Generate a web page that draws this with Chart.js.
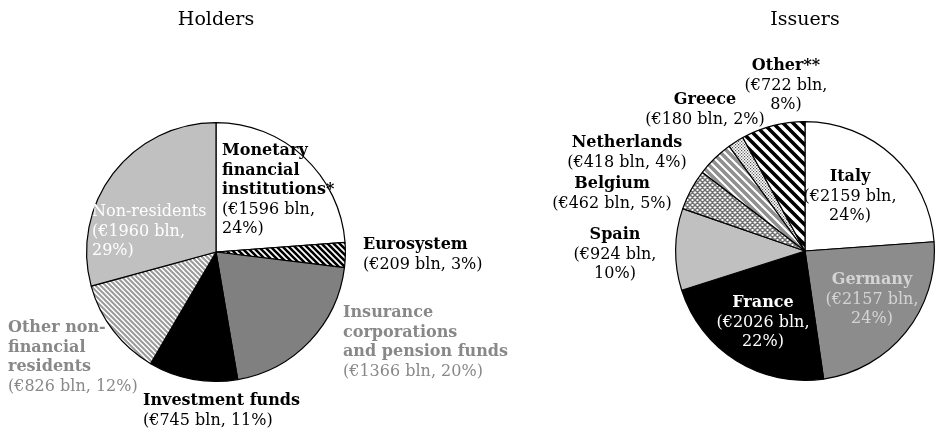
<!DOCTYPE html>
<html>
<head>
<meta charset="utf-8">
<script src="https://cdn.jsdelivr.net/npm/chart.js@4"></script>
<style>
  html, body { margin: 0; padding: 0; background: #fff; }
  #wrap { position: relative; width: 936px; height: 429px; }
  canvas { position: absolute; left: 0; top: 0; }
</style>
</head>
<body>
<div id="wrap">
  <canvas id="holders" width="936" height="429"></canvas>
  <canvas id="issuers" width="936" height="429"></canvas>
</div>
<script>
  /* ---------------- data ---------------- */
  const holderTitle = "Holders";
  const holderNames = [
    "Monetary financial institutions*", "Eurosystem", "Insurance corporations and pension funds",
    "Investment funds", "Other non-financial residents", "Non-residents"
  ];
  const holderValues = [1596, 209, 1366, 745, 826, 1960];
  const holderPct = [24, 3, 20, 11, 12, 29];

  const issuerTitle = "Issuers";
  const issuerNames = ["Italy", "Germany", "France", "Spain", "Belgium", "Netherlands", "Greece", "Other**"];
  const issuerValues = [2159, 2157, 2026, 924, 462, 418, 180, 722];
  const issuerPct = [24, 24, 22, 10, 5, 4, 2, 8];

  /* ---------------- patterns ---------------- */
  function stripes(bg, fg, period, width) {
    const c = document.createElement("canvas");
    c.width = period; c.height = period;
    const g = c.getContext("2d");
    g.fillStyle = bg; g.fillRect(0, 0, period, period);
    g.strokeStyle = fg; g.lineWidth = width;
    g.beginPath();
    for (let k = -1; k <= 1; k++) {
      g.moveTo(k * period - 1, -1);
      g.lineTo(k * period + period + 1, period + 1);
    }
    g.stroke();
    return g.createPattern(c, "repeat");
  }
  function dots(bg, fg, period, r) {
    const c = document.createElement("canvas");
    c.width = period; c.height = period;
    const g = c.getContext("2d");
    g.fillStyle = bg; g.fillRect(0, 0, period, period);
    g.fillStyle = fg;
    g.fillRect(0, 0, r, r);
    g.fillRect(period / 2, period / 2, r, r);
    return g.createPattern(c, "repeat");
  }
  function crossHatch(bg, fg, period, width) {
    const c = document.createElement("canvas");
    c.width = period; c.height = period;
    const g = c.getContext("2d");
    g.fillStyle = bg; g.fillRect(0, 0, period, period);
    g.strokeStyle = fg; g.lineWidth = width;
    g.beginPath();
    for (let k = -1; k <= 1; k++) {
      g.moveTo(k * period, 0); g.lineTo(k * period + period, period);
      g.moveTo(k * period + period, 0); g.lineTo(k * period, period);
    }
    g.stroke();
    return g.createPattern(c, "repeat");
  }

  const holderFills = [
    "#ffffff",
    stripes("#ffffff", "#000000", 6, 2.6),
    "#808080",
    "#000000",
    stripes("#ffffff", "#9a9a9a", 5, 2),
    "#c0c0c0"
  ];
  const issuerFills = [
    "#ffffff",
    "#8c8c8c",
    "#000000",
    "#c0c0c0",
    crossHatch("#ffffff", "#707070", 5, 1.5),
    stripes("#ffffff", "#909090", 8, 3.6),
    dots("#ffffff", "#555555", 3, 1.2),
    stripes("#ffffff", "#000000", 10, 3.6)
  ];

  /* ---------------- label layout (offsets from pie centre) ---------------- */
  const holderLabels = [
    { bold: ["Monetary", "financial", "institutions*"], split: true,  dx: 6,    dy: -101, align: "left", color: "#000" },
    { bold: ["Eurosystem"],                            split: false, dx: 147,  dy: -7,   align: "left", color: "#000" },
    { bold: ["Insurance", "corporations", "and pension funds"], split: false, dx: 127, dy: 61, align: "left", color: "#888" },
    { bold: ["Investment funds"],                      split: false, dx: -73,  dy: 149,  align: "left", color: "#000" },
    { bold: ["Other non-", "financial", "residents"],  split: false, dx: -208, dy: 76,   align: "left", color: "#888" },
    { reg: ["Non-residents"],                          split: true,  dx: -124, dy: -40,  align: "left", color: "#fff" }
  ];
  const issuerLabels = [
    { bold: ["Italy"],       split: true,  dx: 45,   dy: -74,  align: "center", color: "#000" },
    { bold: ["Germany"],     split: true,  dx: 67,   dy: 29,   align: "center", color: "#d4d4d4" },
    { bold: ["France"],      split: true,  dx: -42,  dy: 52,   align: "center", color: "#fff" },
    { bold: ["Spain"],       split: true,  dx: -190, dy: -16,  align: "center", color: "#000" },
    { bold: ["Belgium"],     split: false, dx: -193, dy: -67,  align: "center", color: "#000" },
    { bold: ["Netherlands"], split: false, dx: -178, dy: -108, align: "center", color: "#000" },
    { bold: ["Greece"],      split: false, dx: -100, dy: -151, align: "center", color: "#000" },
    { bold: ["Other**"],     split: true,  dx: -19,  dy: -185, align: "center", color: "#000" }
  ];

  const FONT = "'DejaVu Serif', serif";
  const LINE = 19.5;

  const labelPlugin = {
    id: "sliceLabels",
    afterDraw(chart, args, opts) {
      const ctx = chart.ctx;
      const arcs = chart.getDatasetMeta(0).data;
      const cx = arcs[0].x, cy = arcs[0].y;
      ctx.save();
      ctx.textBaseline = "middle";
      // title
      ctx.fillStyle = "#000";
      ctx.textAlign = "center";
      ctx.font = "19px " + FONT;
      ctx.fillText(opts.title, cx, 20);
      opts.labels.forEach((lab, i) => {
        const v = opts.values[i], p = opts.pct[i];
        const valLines = lab.split ? ["(€" + v + " bln,", p + "%)"] : ["(€" + v + " bln, " + p + "%)"];
        let y = cy + lab.dy;
        const x = cx + lab.dx;
        ctx.textAlign = lab.align;
        ctx.fillStyle = lab.color;
        (lab.bold || []).forEach(t => { ctx.font = "bold 16px " + FONT; ctx.fillText(t, x, y); y += LINE; });
        (lab.reg || []).forEach(t => { ctx.font = "16px " + FONT; ctx.fillText(t, x, y); y += LINE; });
        valLines.forEach(t => { ctx.font = "16px " + FONT; ctx.fillText(t, x, y); y += LINE; });
      });
      ctx.restore();
    }
  };

  function makePie(id, names, values, fills, padding, title, labels, pct) {
    return new Chart(document.getElementById(id), {
      type: "pie",
      data: {
        labels: names,
        datasets: [{ data: values, backgroundColor: fills, borderColor: "#000", borderWidth: 1.2 }]
      },
      options: {
        responsive: false,
        animation: false,
        layout: { padding },
        plugins: {
          legend: { display: false },
          tooltip: { enabled: false },
          sliceLabels: { title, labels, values, pct }
        }
      },
      plugins: [labelPlugin]
    });
  }

  makePie("holders", holderNames, holderValues, holderFills,
    { left: 86, right: 590, top: 122, bottom: 47 }, holderTitle, holderLabels, holderPct);
  makePie("issuers", issuerNames, issuerValues, issuerFills,
    { left: 675, right: 1, top: 121, bottom: 48 }, issuerTitle, issuerLabels, issuerPct);
</script>
</body>
</html>
